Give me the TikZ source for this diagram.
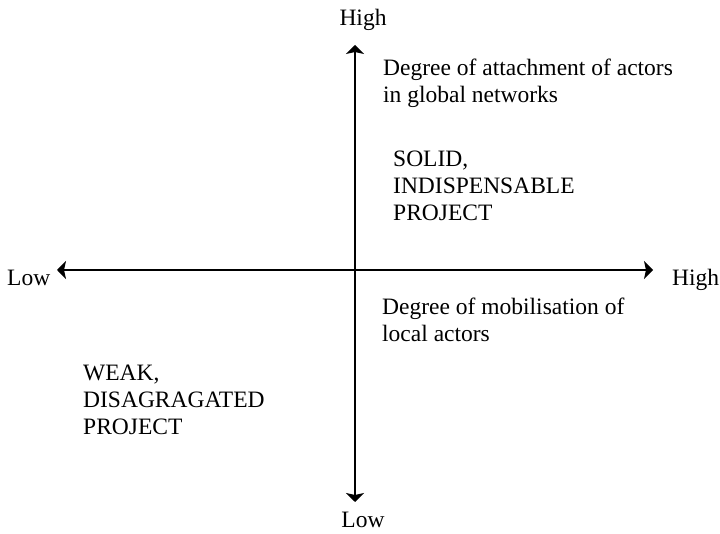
\documentclass[tikz,border=0pt]{standalone}
\usepackage{fontspec}
\setmainfont{Liberation Serif}
\usetikzlibrary{arrows.meta}
\begin{document}
\begin{tikzpicture}[x=1pt,y=-1pt,
    axis/.style={line width=1.3pt,
      {Stealth[length=9pt,width=18pt,inset=2pt]}-{Stealth[length=9pt,width=18pt,inset=2pt]}},
    txt/.style={align=left,anchor=base west,inner sep=0pt,
      font=\fontsize{23.5}{27}\selectfont}]
\useasboundingbox (0,0) rectangle (720,534);
% axis ends
\coordinate (top) at (355,45);
\coordinate (bottom) at (355,502);
\coordinate (left) at (57,270);
\coordinate (right) at (653,270);
\draw[axis] (left) -- (right);
\draw[axis] (bottom) -- (top);
% axis labels
\node[txt,anchor=base] (yhigh) at (363,26) {High};
\node[txt,anchor=base] (ylow) at (363,527) {Low};
\node[txt] (xlow) at (7,286) {Low};
\node[txt] (xhigh) at (672,286) {High};
% axis titles (base = last line)
\node[txt] (attach) at (383,103) {Degree of attachment of actors\\in global networks};
\node[txt] (mobil) at (382,342) {Degree of mobilisation of\\local actors};
% quadrants
\node[txt] (solid) at (393,221) {SOLID,\\INDISPENSABLE\\PROJECT};
\node[txt] (weak) at (83,434) {WEAK,\\DISAGRAGATED\\PROJECT};
\end{tikzpicture}
\end{document}
